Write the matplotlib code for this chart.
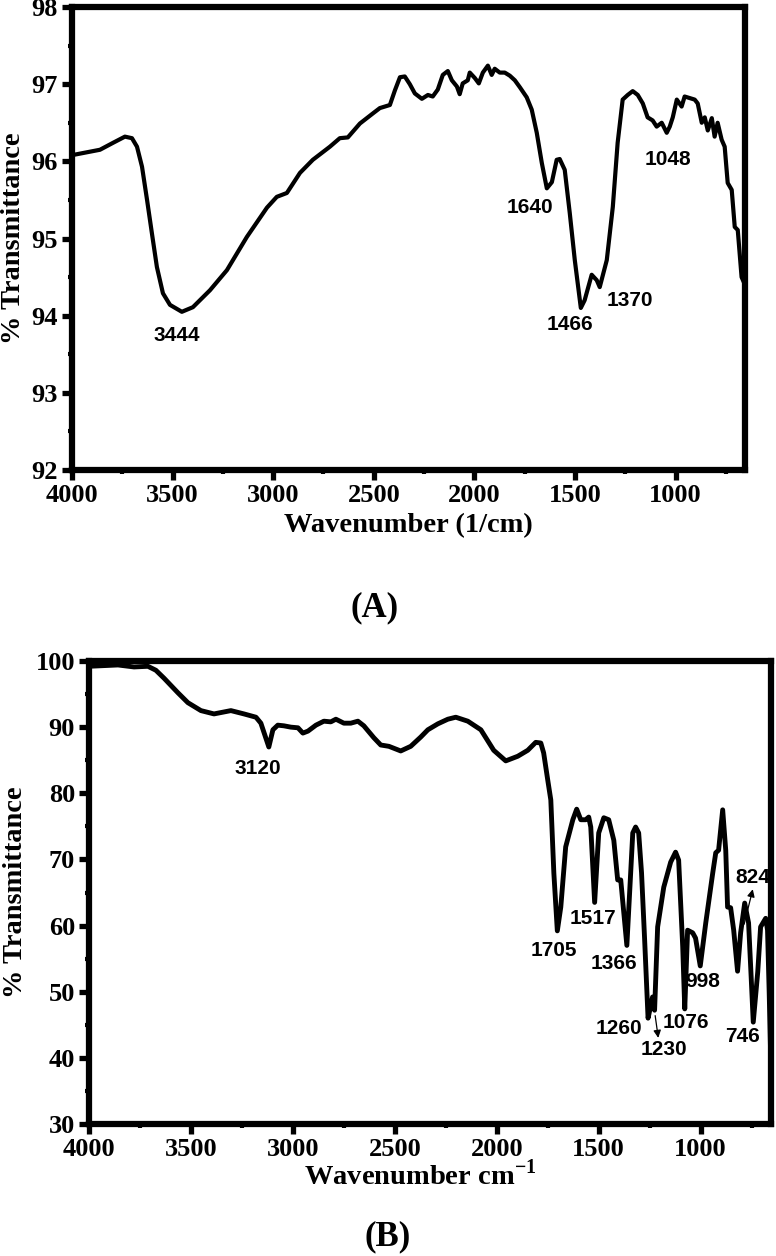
import numpy as np
import matplotlib
matplotlib.use("Agg")
import matplotlib.pyplot as plt
from matplotlib.ticker import MultipleLocator

plt.rcParams["mathtext.fontset"] = "custom"
plt.rcParams["mathtext.rm"] = "Liberation Serif:bold"
plt.rcParams["mathtext.bf"] = "Liberation Serif:bold"

# ---- panel A spectrum (wavenumber, %T) ----
wn_a = [4000, 3861, 3796, 3737, 3702, 3677, 3652, 3627, 3603, 3578, 3548, 3513,
        3454, 3399, 3314, 3230, 3131, 3031, 2982, 2932, 2867, 2803, 2718, 2669,
        2629, 2569, 2505, 2470, 2420, 2395, 2370, 2346, 2321, 2296, 2261, 2231,
        2207, 2182, 2157, 2132, 2112, 2087, 2073, 2058, 2033, 2023, 1998, 1978,
        1958, 1933, 1914, 1899, 1874, 1849, 1824, 1799, 1774, 1740, 1715, 1690,
        1665, 1640, 1615, 1591, 1576, 1551, 1526, 1501, 1471, 1452, 1417, 1392,
        1377, 1342, 1312, 1288, 1263, 1238, 1213, 1188, 1163, 1139, 1114, 1094,
        1069, 1044, 1029, 1014, 994, 970, 955, 930, 905, 890, 870, 855, 840, 820,
        806, 791, 771, 756, 741, 721, 706, 691, 672, 655]
t_a = [96.08, 96.15, 96.24, 96.32, 96.30, 96.19, 95.93, 95.50, 95.07, 94.63, 94.29, 94.14,
       94.05, 94.11, 94.33, 94.59, 95.02, 95.40, 95.54, 95.59, 95.85, 96.02, 96.19, 96.30,
       96.31, 96.49, 96.62, 96.69, 96.73, 96.92, 97.09, 97.10, 97.00, 96.88, 96.81, 96.86,
       96.84, 96.93, 97.12, 97.17, 97.05, 96.97, 96.87, 97.01, 97.05, 97.15, 97.08, 97.01,
       97.15, 97.24, 97.12, 97.20, 97.15, 97.15, 97.11, 97.05, 96.96, 96.83, 96.67, 96.37,
       95.98, 95.65, 95.73, 96.02, 96.03, 95.89, 95.33, 94.72, 94.10, 94.20, 94.53, 94.46,
       94.37, 94.72, 95.41, 96.24, 96.80, 96.86, 96.91, 96.86, 96.75, 96.57, 96.53, 96.45,
       96.50, 96.37, 96.45, 96.57, 96.80, 96.71, 96.84, 96.82, 96.80, 96.75, 96.50, 96.57, 96.40, 96.56,
       96.32, 96.50, 96.28, 96.19, 95.72, 95.63, 95.15, 95.11, 94.50, 94.40]

peaks_a = ["3444", "1640", "1466", "1370", "1048"]
peaks_a_x = [3480, 1725, 1526, 1228, 1039]
peaks_a_y = [93.74, 95.40, 93.88, 94.20, 96.02]

# ---- panel B spectrum ----
wn_b = [4000, 3858, 3779, 3711, 3672, 3632, 3564, 3515, 3451, 3387, 3304, 3240,
        3181, 3157, 3118, 3098, 3074, 3044, 3010, 2975, 2951, 2926, 2887, 2848,
        2814, 2789, 2750, 2716, 2681, 2652, 2603, 2569, 2529, 2471, 2422, 2373,
        2338, 2289, 2240, 2201, 2142, 2078, 2015, 1956, 1897, 1848, 1809, 1784,
        1770, 1750, 1735, 1720, 1703, 1686, 1662, 1627, 1608, 1588, 1564, 1549,
        1539, 1520, 1500, 1475, 1451, 1426, 1407, 1392, 1362, 1333, 1319, 1304,
        1290, 1275, 1258, 1244, 1236, 1226, 1211, 1181, 1147, 1123, 1108, 1088,
        1078, 1064, 1039, 1025, 1002, 975, 941, 926, 912, 892, 877, 868,
        853, 838, 819, 804, 784, 765, 752, 742, 720, 706, 681, 672, 664, 655]
t_b = [99.2, 99.4, 99.1, 99.2, 98.6, 97.4, 95.2, 93.7, 92.5, 92.0, 92.5, 92.0,
       91.5, 90.6, 87.0, 89.6, 90.3, 90.2, 90.0, 89.9, 89.1, 89.4, 90.3, 90.9,
       90.8, 91.2, 90.6, 90.6, 90.9, 90.2, 88.4, 87.3, 87.1, 86.4, 87.1, 88.5,
       89.6, 90.5, 91.2, 91.5, 90.9, 89.6, 86.5, 84.9, 85.6, 86.5, 87.7, 87.6,
       86.1, 82.0, 79.0, 67.9, 59.2, 62.8, 71.9, 76.0, 77.6, 76.0, 76.0, 76.4,
       74.9, 63.5, 74.0, 76.3, 76.0, 72.9, 66.9, 66.9, 57.0, 74.0, 74.9, 74.0,
       68.0, 58.0, 46.0, 48.0, 49.2, 47.2, 59.8, 65.8, 69.6, 71.1, 69.9, 56.8,
       47.4, 59.3, 58.9, 58.1, 53.9, 60.4, 67.9, 71.0, 71.4, 77.5, 71.4, 62.8,
       62.7, 59.3, 53.1, 58.9, 63.4, 60.4, 52.0, 45.4, 53.0, 59.8, 61.1, 59.3, 50.0, 38.2]

peaks_b = ["3120", "1705", "1517", "1366", "998", "1260", "1076", "746", "824", "1230"]
peaks_b_x = [3172, 1720, 1529, 1426, 990, 1402, 1073, 794, 745, 1181]
peaks_b_y = [83.8, 56.3, 61.1, 54.3, 51.5, 44.5, 45.3, 43.3, 67.2, 41.3]

xticks = [4000, 3500, 3000, 2500, 2000, 1500, 1000]

serif = "Liberation Serif"
sans = "Liberation Sans"

W, H = 776, 1256
fig = plt.figure(figsize=(W / 100, H / 100), dpi=100)


def px_axes(l, t, r, b):
    return fig.add_axes([l / W, 1 - b / H, (r - l) / W, (b - t) / H])


def style(ax, ymaj, ymin):
    for s in ax.spines.values():
        s.set_linewidth(4.5)
    ax.set_xticks(xticks)
    ax.xaxis.set_minor_locator(MultipleLocator(250))
    ax.yaxis.set_major_locator(MultipleLocator(ymaj))
    ax.yaxis.set_minor_locator(MultipleLocator(ymin))
    ax.tick_params(which="major", direction="out", length=7, width=3.8, pad=3,
                   labelsize=19)
    ax.tick_params(which="minor", direction="out", length=3, width=3)
    for lab in ax.get_xticklabels() + ax.get_yticklabels():
        lab.set_fontfamily(serif)
        lab.set_fontweight("bold")


# ---- (A) ----
ax1 = px_axes(72, 7, 745, 470)
ax1.plot(wn_a, t_a, color="black", lw=3.0, solid_joinstyle="round")
ax1.set_xlim(4000, 655)
ax1.set_ylim(92, 98)
style(ax1, 1, 0.5)
ax1.set_xlabel("Wavenumber (1/cm)", fontfamily=serif, fontweight="bold", fontsize=20.5)
ax1.set_ylabel("% Transmittance", fontfamily=serif, fontweight="bold", fontsize=20.5)
ax1.xaxis.set_label_coords(0.5, -0.093)
ax1.yaxis.set_label_coords(-0.068, 0.5)
for lab, x, y in zip(peaks_a, peaks_a_x, peaks_a_y):
    ax1.text(x, y, lab, ha="center", va="center", fontfamily=sans,
             fontweight="bold", fontsize=15)
fig.text(375 / W, 1 - 608 / H, "(A)", ha="center", va="center",
         fontfamily=serif, fontweight="bold", fontsize=25)

# ---- (B) ----
ax2 = px_axes(89, 661, 771, 1124)
ax2.plot(wn_b, t_b, color="black", lw=3.5, solid_joinstyle="round")
ax2.set_xlim(4000, 655)
ax2.set_ylim(30, 100)
style(ax2, 10, 5)
ax2.set_xlabel("Wavenumber cm$^{-1}$", fontfamily=serif, fontweight="bold", fontsize=20.5)
ax2.set_ylabel("% Transmittance", fontfamily=serif, fontweight="bold", fontsize=20.5)
ax2.xaxis.set_label_coords(0.485, -0.078)
ax2.yaxis.set_label_coords(-0.090, 0.5)
for lab, x, y in zip(peaks_b, peaks_b_x, peaks_b_y):
    ax2.text(x, y, lab, ha="center", va="center", fontfamily=sans,
             fontweight="bold", fontsize=15)
ax2.annotate("", xy=(741, 65.9), xytext=(790, 59.8),
             arrowprops=dict(arrowstyle="-|>", color="black", lw=0.9,
                             mutation_scale=11))
ax2.annotate("", xy=(1206, 42.6), xytext=(1225, 46.8),
             arrowprops=dict(arrowstyle="-|>", color="black", lw=0.9,
                             mutation_scale=11))
fig.text(388 / W, 1 - 1237 / H, "(B)", ha="center", va="center",
         fontfamily=serif, fontweight="bold", fontsize=25)

fig.savefig("out.png", dpi=100)
